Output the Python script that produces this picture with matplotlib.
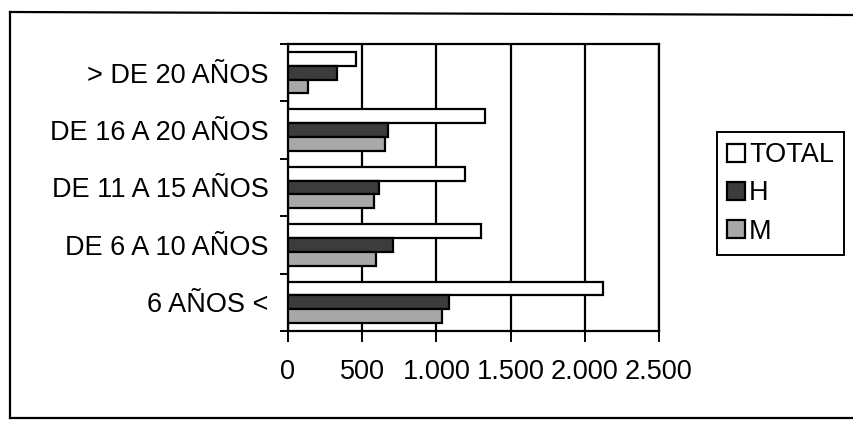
import matplotlib
matplotlib.use('Agg')
import matplotlib.pyplot as plt
import numpy as np

plt.rcParams['font.family'] = ['Liberation Sans', 'DejaVu Sans']

categorias = ['6 AÑOS <', 'DE 6 A 10 AÑOS', 'DE 11 A 15 AÑOS', 'DE 16 A 20 AÑOS', '> DE 20 AÑOS']
total = [2120, 1302, 1191, 1329, 457]
hombres = [1082, 709, 611, 675, 331]
mujeres = [1035, 593, 580, 652, 134]
xticks = [0, 500, 1000, 1500, 2000, 2500]
xlabels = ['0', '500', '1.000', '1.500', '2.000', '2.500']

W, H = 854, 421
fig = plt.figure(figsize=(W / 100, H / 100), dpi=100)
ax = fig.add_axes([288 / W, 1 - 331 / H, (659 - 288) / W, (331 - 44) / H])

y = np.arange(len(categorias))
h = 0.24
ax.barh(y + h, total, height=h, color='white', edgecolor='black', linewidth=1.6, label='TOTAL', zorder=3)
ax.barh(y, hombres, height=h, color='#3c3c3c', edgecolor='black', linewidth=1.6, label='H', zorder=3)
ax.barh(y - h, mujeres, height=h, color='#a8a8a8', edgecolor='black', linewidth=1.6, label='M', zorder=3)

ax.set_xlim(0, 2500)
ax.set_ylim(-0.5, len(categorias) - 0.5)
ax.set_xticks(xticks)
ax.set_xticklabels(xlabels)
ax.set_yticks(y)
ax.set_yticklabels(categorias)
ax.set_yticks(np.arange(-0.5, len(categorias), 1), minor=True)
ax.tick_params(axis='y', which='major', length=0, pad=14, labelsize=19.5)
ax.tick_params(axis='y', which='minor', length=6, width=1.4, direction='out')
ax.tick_params(axis='x', which='major', length=8, width=1.4, direction='out', pad=12, labelsize=19.5)
ax.grid(axis='x', color='black', linewidth=1.6, zorder=0)
for s in ax.spines.values():
    s.set_linewidth(1.6)

# marco exterior
fig.add_artist(plt.Line2D([10 / W, 10 / W], [1 - 12 / H, 1 - 418 / H], color='black', lw=1.6))
fig.add_artist(plt.Line2D([10 / W, 1], [1 - 12 / H, 1 - 15 / H], color='black', lw=1.6))
fig.add_artist(plt.Line2D([10 / W, 1], [1 - 418 / H, 1 - 418 / H], color='black', lw=1.6))

leg = fig.legend(loc='upper left', bbox_to_anchor=(717 / W, 1 - 132 / H), borderaxespad=0,
                 fontsize=19.5, fancybox=False, edgecolor='black', framealpha=1,
                 handlelength=0.65, handleheight=0.65, handletextpad=0.15,
                 labelspacing=0.45, borderpad=0.38)
leg.get_frame().set_linewidth(1.4)

fig.savefig('out.png', dpi=100)
